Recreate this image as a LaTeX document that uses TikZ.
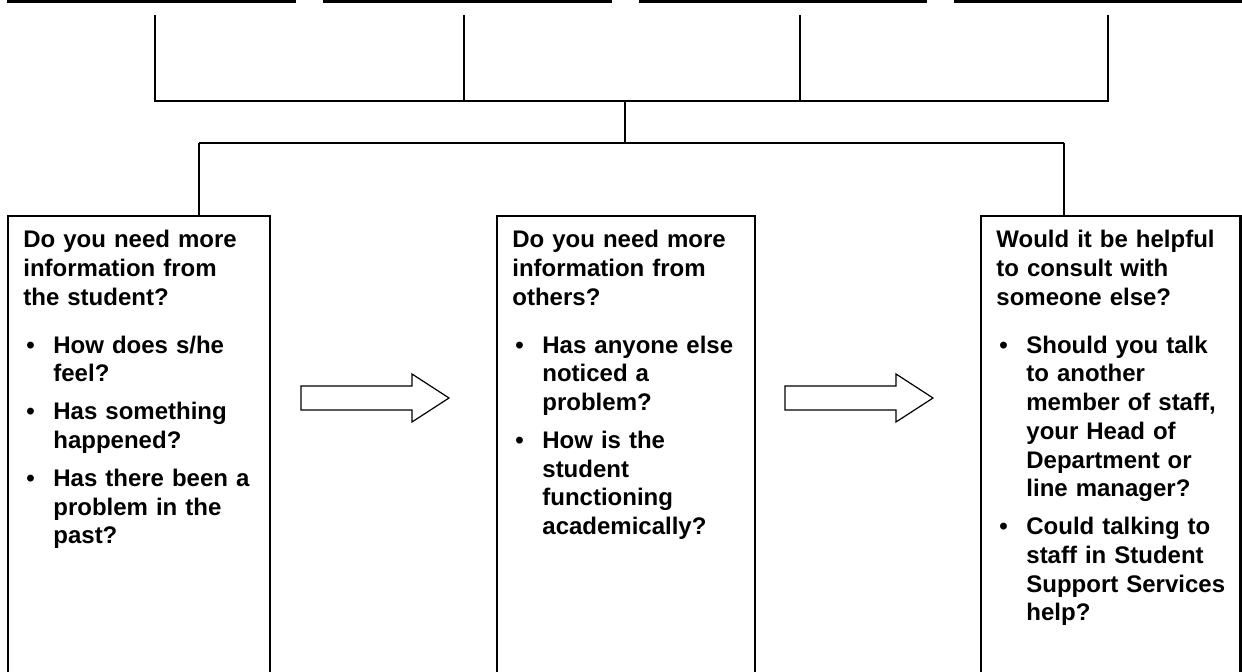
\documentclass[tikz,border=0pt]{standalone}
\usepackage{fontspec}
\setmainfont{Liberation Sans}
\usetikzlibrary{fit}
\newcommand{\blt}{\makebox[15pt][l]{\hspace{1.5pt}\textbullet}}
\newcommand{\ind}{\hspace*{15pt}}
\begin{document}
\begin{tikzpicture}[x=0.5pt,y=-0.5pt,
  box/.style={draw, line width=1.1pt, inner sep=0pt},
  conn/.style={line width=0.8pt},
  blockarrow/.style={draw, line width=0.6pt, fill=white, line join=miter},
  body/.style={anchor=base west, inner sep=0pt, align=left, text width=130pt,
    font=\fontsize{12}{14.35}\selectfont\bfseries}]
\useasboundingbox (0,0) rectangle (1242,672);
\clip (0,0) rectangle (1242,672);
% top boxes (cut off at the top)
\node[box, fit={(8,-40) (295,1.5)}] (t1) {};
\node[box, fit={(324,-40) (611,1.5)}] (t2) {};
\node[box, fit={(640,-40) (926,1.5)}] (t3) {};
\node[box, fit={(955,-40) (1241,1.5)}] (t4) {};
% lower boxes
\node[box, fit={(8,216) (270,720)}] (bL) {};
\node[box, fit={(497,216) (755,720)}] (bM) {};
\node[box, fit={(981,216) (1240.5,720)}] (bR) {};
% connectors
\coordinate (a1) at (155,15);
\coordinate (a2) at (464,15);
\coordinate (a3) at (800,15);
\coordinate (a4) at (1108,15);
\coordinate (m) at (625,101);
\coordinate (h) at (625,143);
\coordinate (dl) at (199,143);
\coordinate (dr) at (1064,143);
\draw[conn] (a1) |- (m);
\draw[conn] (a4) |- (m);
\draw[conn] (a2) -- (a2 |- m);
\draw[conn] (a3) -- (a3 |- m);
\draw[conn] (m) -- (h);
\draw[conn] (dl) -- (dr);
\draw[conn] (dl) -- (dl |- bL.north);
\draw[conn] (dr) -- (dr |- bR.north);
% block arrows
\draw[blockarrow] (301,386) -- (412,386) -- (412,374) -- (449,398) -- (412,422) -- (412,410) -- (301,410) -- cycle;
\draw[blockarrow] (785,386) -- (896,386) -- (896,374) -- (933,398) -- (896,422) -- (896,410) -- (785,410) -- cycle;
% texts
\node[body] (txtL) at (23,248) {Do you need more\\
information from\\
the student?\\[9.6pt]
\blt How does s/he\\
\ind feel?\\[4.6pt]
\blt Has something\\
\ind happened?\\[4.6pt]
\blt Has there been a\\
\ind problem in the\\
\ind past?};
\node[body] (txtM) at (512,248) {Do you need more\\
information from\\
others?\\[9.6pt]
\blt Has anyone else\\
\ind noticed a\\
\ind problem?\\[4.6pt]
\blt How is the\\
\ind student\\
\ind functioning\\
\ind academically?};
\node[body] (txtR) at (996,248) {Would it be helpful\\
to consult with\\
someone else?\\[9.6pt]
\blt Should you talk\\
\ind to another\\
\ind member of staff,\\
\ind your Head of\\
\ind Department or\\
\ind line manager?\\[4.6pt]
\blt Could talking to\\
\ind staff in Student\\
\ind Support Services\\
\ind help?};
\end{tikzpicture}
\end{document}
